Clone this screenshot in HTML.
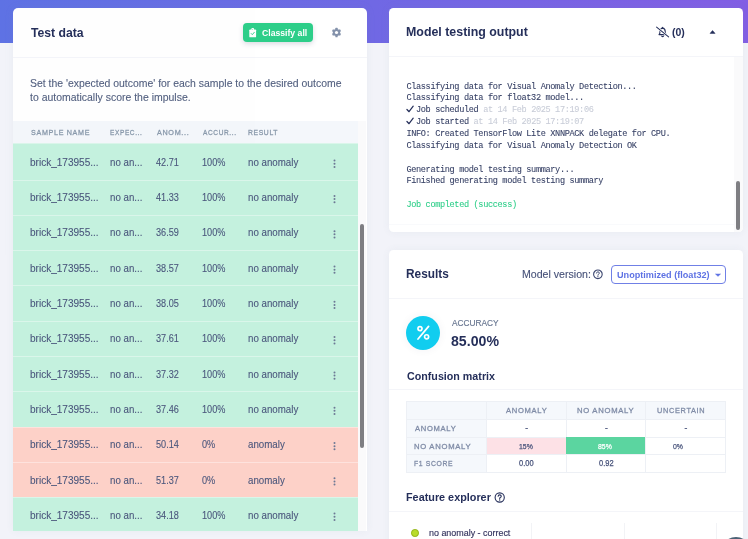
<!DOCTYPE html>
<html><head><meta charset="utf-8">
<style>
*{box-sizing:border-box;margin:0;padding:0}
html,body{width:748px;height:539px;overflow:hidden}
body{background:#f2f3f9;font-family:"Liberation Sans",sans-serif;color:#32325d;position:relative}
.top{position:absolute;left:0;top:0;width:748px;height:42.7px;background:linear-gradient(90deg,#5e72e4 0%,#825ee4 100%)}
.card{position:absolute;background:#fff;border-radius:4.5px;box-shadow:0 0 10px rgba(136,152,170,.09)}
.bx{position:absolute}
.t{position:absolute;white-space:nowrap;line-height:1;transform-origin:0 0;font-family:"Liberation Sans",sans-serif}
.mono{position:absolute;font-family:"Liberation Mono",monospace;font-size:8.6px;letter-spacing:-0.36px;color:#353f64;line-height:11.86px;-webkit-text-stroke:0.08px currentColor;white-space:pre}
.dim{color:#c9cdd8}
.ck{display:inline-block;width:8px;height:8px;margin-right:1.6px;vertical-align:-1px}
.row{position:absolute;left:13px;width:344.8px;height:35.5px;border-top:1px solid rgba(255,255,255,.38)}
.g{background:#c4f1de}
.r{background:#fdd1c8}
.dots{position:absolute;left:320.5px;top:15px;width:2px;height:9px}
.dots b{display:block;width:2px;height:2px;border-radius:50%;background:#66738f;margin-bottom:1.5px}
.gl{background:#edf0f5}
.ln{position:absolute;background:#f4f5f9;height:1px}
#all{position:absolute;left:0;top:0;width:748px;height:539px;overflow:hidden;will-change:transform;opacity:0.999}
</style></head><body><div id="all">
<div class="top"></div>

<!-- LEFT CARD -->
<div class="card" style="left:13px;top:8px;width:354.2px;height:522.6px;border-radius:5px 5px 0 0"></div>
<div class="bx" style="left:243.1px;top:23.1px;width:69.7px;height:19.3px;border-radius:4px;background:#2dce89;box-shadow:0 2px 5px rgba(50,50,93,.18)"></div>
<div class="ln" style="left:13px;top:57px;width:354.2px"></div>
<div class="bx" style="left:13px;top:121.3px;width:344.8px;height:23px;background:#f4f7fb"></div>
<div class="bx" style="left:13px;top:0;width:354.2px;height:530.6px;overflow:hidden">
<div style="position:absolute;left:-13px;top:0;width:400px;height:600px">
<div class="row g" style="top:143.1px;height:36.6px"></div>
<div class="row g" style="top:179.5px;height:35.5px"></div>
<div class="row g" style="top:214.8px;height:35.5px"></div>
<div class="row g" style="top:250.1px;height:35.5px"></div>
<div class="row g" style="top:285.4px;height:35.5px"></div>
<div class="row g" style="top:320.7px;height:35.5px"></div>
<div class="row g" style="top:356.0px;height:35.5px"></div>
<div class="row g" style="top:391.3px;height:35.5px"></div>
<div class="row r" style="top:426.6px;height:35.5px"></div>
<div class="row r" style="top:461.9px;height:35.5px"></div>
<div class="row g" style="top:497.2px;height:35.5px"></div>

</div>
<div class="bx" style="left:344.8px;top:121.3px;width:8.5px;height:412px;background:#fafafb"></div>
<div class="bx" style="left:347px;top:224.4px;width:4.2px;height:223.6px;border-radius:2.1px;background:#7e7e82"></div>
</div>

<!-- RIGHT TOP CARD -->
<div class="card" style="left:388.8px;top:8px;width:354.5px;height:224.2px;overflow:hidden">
  <div class="bx" style="left:344.8px;top:48.4px;width:9.7px;height:176px;background:#fafafb"></div>
  <div class="bx" style="left:347.2px;top:173.4px;width:4.4px;height:48.7px;border-radius:2.2px;background:#7e7e82"></div>
</div>
<div class="ln" style="left:388.8px;top:55.8px;width:354.5px"></div>
<div class="ln" style="left:388.8px;top:223.8px;width:345px;background:#f9fafc"></div>
<div class="mono" id="log" style="left:406.4px;top:81.5px">Classifying data for Visual Anomaly Detection...
Classifying data for float32 model...
<svg class="ck" viewBox="0 0 10 10"><path d="M1.2 5.6 L3.8 8.4 L9 1.4" fill="none" stroke="#252f5a" stroke-width="1.5" stroke-linecap="round" stroke-linejoin="round"/></svg>Job scheduled <span class="dim">at 14 Feb 2025 17:19:06</span>
<svg class="ck" viewBox="0 0 10 10"><path d="M1.2 5.6 L3.8 8.4 L9 1.4" fill="none" stroke="#252f5a" stroke-width="1.5" stroke-linecap="round" stroke-linejoin="round"/></svg>Job started <span class="dim">at 14 Feb 2025 17:19:07</span>
INFO: Created TensorFlow Lite XNNPACK delegate for CPU.
Classifying data for Visual Anomaly Detection OK

Generating model testing summary...
Finished generating model testing summary

<span style="color:#2dce89">Job completed (success)</span></div>

<!-- RIGHT BOTTOM CARD -->
<div class="card" style="left:388.8px;top:249.8px;width:354.5px;height:300px"></div>
<div class="bx" style="left:610.6px;top:265px;width:115.3px;height:19px;border:1px solid #7080e6;border-radius:4px;background:#fff"></div>
<div class="ln" style="left:388.8px;top:297.5px;width:354.5px"></div>
<div class="bx" style="left:406.2px;top:315.9px;width:34.1px;height:34.1px;border-radius:50%;background:#11cdef;box-shadow:0 0 10px rgba(50,50,93,.06)"></div>
<div class="ln" style="left:388.8px;top:389.2px;width:354.5px"></div>
<div class="ln" style="left:388.8px;top:510.6px;width:354.5px"></div>


<!-- confusion matrix -->
<div class="bx" style="left:406.3px;top:400.8px;width:319.4px;height:71.8px;background:#fff;border:1px solid #edf0f5"></div>
<div class="bx" style="left:406.3px;top:400.8px;width:319.4px;height:18.6px;background:#f5f8fc"></div>
<div class="bx" style="left:406.3px;top:400.8px;width:80.2px;height:71.8px;background:#f5f8fc"></div>
<div class="bx" style="left:486.4px;top:437px;width:80px;height:17.6px;background:#fde1e6"></div>
<div class="bx" style="left:566.3px;top:437px;width:79.3px;height:17.2px;background:#5bd5a0"></div>
<div class="bx gl" style="left:406.3px;top:419.2px;width:319.4px;height:1px"></div>
<div class="bx gl" style="left:406.3px;top:436.6px;width:160px;height:1px"></div>
<div class="bx gl" style="left:645.6px;top:436.6px;width:80px;height:1px"></div>
<div class="bx gl" style="left:406.3px;top:454.4px;width:319.4px;height:1px"></div>
<div class="bx gl" style="left:486.2px;top:400.8px;width:1px;height:71.8px"></div>
<div class="bx gl" style="left:566.1px;top:400.8px;width:1px;height:36px"></div>
<div class="bx gl" style="left:566.1px;top:454.4px;width:1px;height:18px"></div>
<div class="bx gl" style="left:645.4px;top:400.8px;width:1px;height:71.8px"></div>
<div class="bx gl" style="left:406.3px;top:400.8px;width:319.4px;height:71.8px;background:none;border:1px solid #edf0f5"></div>

<!-- feature explorer plot hints -->
<div class="bx" style="left:531.2px;top:522.5px;width:1px;height:20px;background:#f2f3f6"></div>
<div class="bx" style="left:623.6px;top:522.5px;width:1px;height:20px;background:#f2f3f6"></div>
<div class="bx" style="left:716.2px;top:522.5px;width:1px;height:20px;background:#f2f3f6"></div>
<div class="bx" style="left:410.9px;top:529.3px;width:7.7px;height:7.7px;border-radius:50%;background:#b9dc2b;border:0.8px solid #93b418"></div>
<div class="bx" style="left:721px;top:536.9px;width:30px;height:30px;border-radius:50%;background:#4b6276"></div>

<!-- ICONS -->
<svg class="bx" style="left:0;top:0" width="748" height="539" viewBox="0 0 748 539">
  <!-- clipboard check -->
  <g transform="translate(249.3,28.1)">
    <path d="M0.9 1.3 H5.9 Q6.8 1.3 6.8 2.2 V8.3 Q6.8 9.2 5.9 9.2 H0.9 Q0 9.2 0 8.3 V2.2 Q0 1.3 0.9 1.3 Z" fill="#fff"/>
    <rect x="2.1" y="0" width="2.6" height="2.2" rx="0.8" fill="#fff"/>
    <path d="M1.9 5.4 L3 6.6 L5 4.2" fill="none" stroke="#2dce89" stroke-width="0.9" stroke-linecap="round" stroke-linejoin="round"/>
    <circle cx="3.4" cy="1.2" r="0.45" fill="#2dce89"/>
  </g>
  <!-- gear -->
  <g transform="translate(336.5,32.5)" fill="#8492ab">
    <g id="teeth">
      <rect x="-1.15" y="-4.65" width="2.3" height="9.3" rx="0.5"/>
      <rect x="-1.15" y="-4.65" width="2.3" height="9.3" rx="0.5" transform="rotate(60)"/>
      <rect x="-1.15" y="-4.65" width="2.3" height="9.3" rx="0.5" transform="rotate(120)"/>
    </g>
    <circle r="3.6"/>
    <circle r="1.6" fill="#fff"/>
  </g>
  <!-- bell slash -->
  <g transform="translate(662.6,32)" fill="none" stroke="#252f5a" stroke-linecap="round" stroke-linejoin="round">
    <path d="M-3.6 2.6 Q-2.6 1.6 -2.6 -0.6 Q-2.6 -3.6 0 -3.9 Q2.6 -3.6 2.6 -0.6 Q2.6 1.6 3.6 2.6 Z" stroke-width="1.1"/>
    <path d="M-0.9 4.2 Q0 5 0.9 4.2" stroke-width="1.1"/>
    <path d="M0 -4.6 V-4" stroke-width="1.1"/>
    <path d="M-6 -5.2 L6.2 5.2" stroke="#fff" stroke-width="2.4"/>
    <path d="M-6 -4.9 L6 4.9" stroke-width="1.05"/>
  </g>
  <!-- caret up -->
  <path d="M710 33.4 L712.55 30.5 L715.1 33.4 Z" fill="#252f5a" stroke="#252f5a" stroke-width="0.5" stroke-linejoin="round"/>
  <!-- select caret -->
  <path d="M715.4 273.9 L720.6 273.9 L718 276.4 Z" fill="#5e72e4" stroke="#5e72e4" stroke-width="0.4" stroke-linejoin="round"/>
  <!-- question circles -->
  <g transform="translate(597.9,274.3)">
    <circle r="4.3" fill="none" stroke="#3d4871" stroke-width="1.1"/>
    <path d="M-1.45 -1.2 Q-1.35 -2.45 0 -2.45 Q1.45 -2.45 1.45 -1.2 Q1.45 -0.4 0.55 0 Q0 0.3 0 1" fill="none" stroke="#3d4871" stroke-width="0.95" stroke-linecap="round"/>
    <circle cx="0" cy="2.35" r="0.6" fill="#3d4871"/>
  </g>
  <g transform="translate(499.7,497.5)">
    <circle r="4.6" fill="none" stroke="#252f5a" stroke-width="1.1"/>
    <path d="M-1.55 -1.3 Q-1.45 -2.65 0 -2.65 Q1.55 -2.65 1.55 -1.3 Q1.55 -0.4 0.6 0 Q0 0.3 0 1.1" fill="none" stroke="#252f5a" stroke-width="1.1" stroke-linecap="round"/>
    <circle cx="0" cy="2.5" r="0.7" fill="#252f5a"/>
  </g>
  <circle cx="334.5" cy="160.60" r="1.0" fill="#6c7894"/><circle cx="334.5" cy="163.75" r="1.0" fill="#6c7894"/><circle cx="334.5" cy="166.90" r="1.0" fill="#6c7894"/><circle cx="334.5" cy="195.90" r="1.0" fill="#6c7894"/><circle cx="334.5" cy="199.05" r="1.0" fill="#6c7894"/><circle cx="334.5" cy="202.20" r="1.0" fill="#6c7894"/><circle cx="334.5" cy="231.20" r="1.0" fill="#6c7894"/><circle cx="334.5" cy="234.35" r="1.0" fill="#6c7894"/><circle cx="334.5" cy="237.50" r="1.0" fill="#6c7894"/><circle cx="334.5" cy="266.50" r="1.0" fill="#6c7894"/><circle cx="334.5" cy="269.65" r="1.0" fill="#6c7894"/><circle cx="334.5" cy="272.80" r="1.0" fill="#6c7894"/><circle cx="334.5" cy="301.80" r="1.0" fill="#6c7894"/><circle cx="334.5" cy="304.95" r="1.0" fill="#6c7894"/><circle cx="334.5" cy="308.10" r="1.0" fill="#6c7894"/><circle cx="334.5" cy="337.10" r="1.0" fill="#6c7894"/><circle cx="334.5" cy="340.25" r="1.0" fill="#6c7894"/><circle cx="334.5" cy="343.40" r="1.0" fill="#6c7894"/><circle cx="334.5" cy="372.40" r="1.0" fill="#6c7894"/><circle cx="334.5" cy="375.55" r="1.0" fill="#6c7894"/><circle cx="334.5" cy="378.70" r="1.0" fill="#6c7894"/><circle cx="334.5" cy="407.70" r="1.0" fill="#6c7894"/><circle cx="334.5" cy="410.85" r="1.0" fill="#6c7894"/><circle cx="334.5" cy="414.00" r="1.0" fill="#6c7894"/><circle cx="334.5" cy="443.00" r="1.0" fill="#6c7894"/><circle cx="334.5" cy="446.15" r="1.0" fill="#6c7894"/><circle cx="334.5" cy="449.30" r="1.0" fill="#6c7894"/><circle cx="334.5" cy="478.30" r="1.0" fill="#6c7894"/><circle cx="334.5" cy="481.45" r="1.0" fill="#6c7894"/><circle cx="334.5" cy="484.60" r="1.0" fill="#6c7894"/><circle cx="334.5" cy="513.60" r="1.0" fill="#6c7894"/><circle cx="334.5" cy="516.75" r="1.0" fill="#6c7894"/><circle cx="334.5" cy="519.90" r="1.0" fill="#6c7894"/>
  <!-- percent -->
  <g transform="translate(423.3,332.7)" fill="none" stroke="#fff" stroke-linecap="round">
    <circle cx="-3.3" cy="-4.1" r="2.05" stroke-width="1.7"/>
    <circle cx="3.3" cy="4.1" r="2.05" stroke-width="1.7"/>
    <path d="M5.3 -6.3 L-5.3 6.3" stroke-width="1.75"/>
  </g>
</svg>

<div class="t" id="t1" style="left:30.57px;top:26.10px;font-size:13.1px;font-weight:bold;color:#252f5a;letter-spacing:0.000px;transform:scaleX(0.9316);">Test data</div>
<div class="t" id="cls" style="left:261.76px;top:29.41px;font-size:9.3px;font-weight:bold;color:#fff;letter-spacing:0.000px;transform:scaleX(0.9305);">Classify all</div>
<div class="t" id="d1" style="left:29.86px;top:77.50px;font-size:10.8px;font-weight:normal;color:#525f7f;letter-spacing:0.000px;transform:scaleX(0.9668);-webkit-text-stroke:0.12px currentColor;">Set the 'expected outcome' for each sample to the desired outcome</div>
<div class="t" id="d2" style="left:29.90px;top:91.90px;font-size:10.8px;font-weight:normal;color:#525f7f;letter-spacing:0.000px;transform:scaleX(0.9699);-webkit-text-stroke:0.12px currentColor;">to automatically score the impulse.</div>
<div class="t" id="th1" style="left:30.76px;top:129.01px;font-size:8px;font-weight:normal;color:#8898aa;letter-spacing:0.750px;transform:scaleX(0.8956);-webkit-text-stroke:0.3px currentColor;">SAMPLE NAME</div>
<div class="t" id="th2" style="left:110.43px;top:129.01px;font-size:8px;font-weight:normal;color:#8898aa;letter-spacing:0.750px;transform:scaleX(0.8150);-webkit-text-stroke:0.3px currentColor;">EXPEC...</div>
<div class="t" id="th3" style="left:156.88px;top:129.01px;font-size:8px;font-weight:normal;color:#8898aa;letter-spacing:0.750px;transform:scaleX(0.9017);-webkit-text-stroke:0.3px currentColor;">ANOM...</div>
<div class="t" id="th4" style="left:202.88px;top:129.01px;font-size:8px;font-weight:normal;color:#8898aa;letter-spacing:0.750px;transform:scaleX(0.8185);-webkit-text-stroke:0.3px currentColor;">ACCUR...</div>
<div class="t" id="th5" style="left:248.43px;top:129.01px;font-size:8px;font-weight:normal;color:#8898aa;letter-spacing:0.750px;transform:scaleX(0.8480);-webkit-text-stroke:0.3px currentColor;">RESULT</div>
<div class="t" id="r0a" style="left:29.56px;top:157.80px;font-size:10.1px;font-weight:normal;color:#4a567c;letter-spacing:0.000px;transform:scaleX(0.9943);-webkit-text-stroke:0.1px currentColor;">brick_173955...</div>
<div class="t" id="r0b" style="left:110.43px;top:157.80px;font-size:10.1px;font-weight:normal;color:#4a567c;letter-spacing:0.000px;transform:scaleX(0.9610);-webkit-text-stroke:0.1px currentColor;">no an...</div>
<div class="t" id="r0c" style="left:156.43px;top:157.80px;font-size:10.1px;font-weight:normal;color:#4a567c;letter-spacing:0.000px;transform:scaleX(0.9043);-webkit-text-stroke:0.1px currentColor;">42.71</div>
<div class="t" id="r0d" style="left:202.43px;top:157.80px;font-size:10.1px;font-weight:normal;color:#4a567c;letter-spacing:0.000px;transform:scaleX(0.9072);-webkit-text-stroke:0.1px currentColor;">100%</div>
<div class="t" id="r0e" style="left:248.43px;top:157.80px;font-size:10.1px;font-weight:normal;color:#4a567c;letter-spacing:0.000px;transform:scaleX(0.9640);-webkit-text-stroke:0.1px currentColor;">no anomaly</div>
<div class="t" id="r1a" style="left:29.56px;top:193.10px;font-size:10.1px;font-weight:normal;color:#4a567c;letter-spacing:0.000px;transform:scaleX(0.9943);-webkit-text-stroke:0.1px currentColor;">brick_173955...</div>
<div class="t" id="r1b" style="left:110.43px;top:193.10px;font-size:10.1px;font-weight:normal;color:#4a567c;letter-spacing:0.000px;transform:scaleX(0.9610);-webkit-text-stroke:0.1px currentColor;">no an...</div>
<div class="t" id="r1c" style="left:156.43px;top:193.10px;font-size:10.1px;font-weight:normal;color:#4a567c;letter-spacing:0.000px;transform:scaleX(0.9043);-webkit-text-stroke:0.1px currentColor;">41.33</div>
<div class="t" id="r1d" style="left:202.43px;top:193.10px;font-size:10.1px;font-weight:normal;color:#4a567c;letter-spacing:0.000px;transform:scaleX(0.9072);-webkit-text-stroke:0.1px currentColor;">100%</div>
<div class="t" id="r1e" style="left:248.43px;top:193.10px;font-size:10.1px;font-weight:normal;color:#4a567c;letter-spacing:0.000px;transform:scaleX(0.9640);-webkit-text-stroke:0.1px currentColor;">no anomaly</div>
<div class="t" id="r2a" style="left:29.56px;top:228.40px;font-size:10.1px;font-weight:normal;color:#4a567c;letter-spacing:0.000px;transform:scaleX(0.9943);-webkit-text-stroke:0.1px currentColor;">brick_173955...</div>
<div class="t" id="r2b" style="left:110.43px;top:228.40px;font-size:10.1px;font-weight:normal;color:#4a567c;letter-spacing:0.000px;transform:scaleX(0.9610);-webkit-text-stroke:0.1px currentColor;">no an...</div>
<div class="t" id="r2c" style="left:156.43px;top:228.40px;font-size:10.1px;font-weight:normal;color:#4a567c;letter-spacing:0.000px;transform:scaleX(0.9043);-webkit-text-stroke:0.1px currentColor;">36.59</div>
<div class="t" id="r2d" style="left:202.43px;top:228.40px;font-size:10.1px;font-weight:normal;color:#4a567c;letter-spacing:0.000px;transform:scaleX(0.9072);-webkit-text-stroke:0.1px currentColor;">100%</div>
<div class="t" id="r2e" style="left:248.43px;top:228.40px;font-size:10.1px;font-weight:normal;color:#4a567c;letter-spacing:0.000px;transform:scaleX(0.9640);-webkit-text-stroke:0.1px currentColor;">no anomaly</div>
<div class="t" id="r3a" style="left:29.56px;top:263.70px;font-size:10.1px;font-weight:normal;color:#4a567c;letter-spacing:0.000px;transform:scaleX(0.9943);-webkit-text-stroke:0.1px currentColor;">brick_173955...</div>
<div class="t" id="r3b" style="left:110.43px;top:263.70px;font-size:10.1px;font-weight:normal;color:#4a567c;letter-spacing:0.000px;transform:scaleX(0.9610);-webkit-text-stroke:0.1px currentColor;">no an...</div>
<div class="t" id="r3c" style="left:156.43px;top:263.70px;font-size:10.1px;font-weight:normal;color:#4a567c;letter-spacing:0.000px;transform:scaleX(0.9043);-webkit-text-stroke:0.1px currentColor;">38.57</div>
<div class="t" id="r3d" style="left:202.43px;top:263.70px;font-size:10.1px;font-weight:normal;color:#4a567c;letter-spacing:0.000px;transform:scaleX(0.9072);-webkit-text-stroke:0.1px currentColor;">100%</div>
<div class="t" id="r3e" style="left:248.43px;top:263.70px;font-size:10.1px;font-weight:normal;color:#4a567c;letter-spacing:0.000px;transform:scaleX(0.9640);-webkit-text-stroke:0.1px currentColor;">no anomaly</div>
<div class="t" id="r4a" style="left:29.56px;top:299.00px;font-size:10.1px;font-weight:normal;color:#4a567c;letter-spacing:0.000px;transform:scaleX(0.9943);-webkit-text-stroke:0.1px currentColor;">brick_173955...</div>
<div class="t" id="r4b" style="left:110.43px;top:299.00px;font-size:10.1px;font-weight:normal;color:#4a567c;letter-spacing:0.000px;transform:scaleX(0.9610);-webkit-text-stroke:0.1px currentColor;">no an...</div>
<div class="t" id="r4c" style="left:156.43px;top:299.00px;font-size:10.1px;font-weight:normal;color:#4a567c;letter-spacing:0.000px;transform:scaleX(0.9043);-webkit-text-stroke:0.1px currentColor;">38.05</div>
<div class="t" id="r4d" style="left:202.43px;top:299.00px;font-size:10.1px;font-weight:normal;color:#4a567c;letter-spacing:0.000px;transform:scaleX(0.9072);-webkit-text-stroke:0.1px currentColor;">100%</div>
<div class="t" id="r4e" style="left:248.43px;top:299.00px;font-size:10.1px;font-weight:normal;color:#4a567c;letter-spacing:0.000px;transform:scaleX(0.9640);-webkit-text-stroke:0.1px currentColor;">no anomaly</div>
<div class="t" id="r5a" style="left:29.56px;top:334.30px;font-size:10.1px;font-weight:normal;color:#4a567c;letter-spacing:0.000px;transform:scaleX(0.9943);-webkit-text-stroke:0.1px currentColor;">brick_173955...</div>
<div class="t" id="r5b" style="left:110.43px;top:334.30px;font-size:10.1px;font-weight:normal;color:#4a567c;letter-spacing:0.000px;transform:scaleX(0.9610);-webkit-text-stroke:0.1px currentColor;">no an...</div>
<div class="t" id="r5c" style="left:156.43px;top:334.30px;font-size:10.1px;font-weight:normal;color:#4a567c;letter-spacing:0.000px;transform:scaleX(0.9043);-webkit-text-stroke:0.1px currentColor;">37.61</div>
<div class="t" id="r5d" style="left:202.43px;top:334.30px;font-size:10.1px;font-weight:normal;color:#4a567c;letter-spacing:0.000px;transform:scaleX(0.9072);-webkit-text-stroke:0.1px currentColor;">100%</div>
<div class="t" id="r5e" style="left:248.43px;top:334.30px;font-size:10.1px;font-weight:normal;color:#4a567c;letter-spacing:0.000px;transform:scaleX(0.9640);-webkit-text-stroke:0.1px currentColor;">no anomaly</div>
<div class="t" id="r6a" style="left:29.56px;top:369.60px;font-size:10.1px;font-weight:normal;color:#4a567c;letter-spacing:0.000px;transform:scaleX(0.9943);-webkit-text-stroke:0.1px currentColor;">brick_173955...</div>
<div class="t" id="r6b" style="left:110.43px;top:369.60px;font-size:10.1px;font-weight:normal;color:#4a567c;letter-spacing:0.000px;transform:scaleX(0.9610);-webkit-text-stroke:0.1px currentColor;">no an...</div>
<div class="t" id="r6c" style="left:156.43px;top:369.60px;font-size:10.1px;font-weight:normal;color:#4a567c;letter-spacing:0.000px;transform:scaleX(0.9043);-webkit-text-stroke:0.1px currentColor;">37.32</div>
<div class="t" id="r6d" style="left:202.43px;top:369.60px;font-size:10.1px;font-weight:normal;color:#4a567c;letter-spacing:0.000px;transform:scaleX(0.9072);-webkit-text-stroke:0.1px currentColor;">100%</div>
<div class="t" id="r6e" style="left:248.43px;top:369.60px;font-size:10.1px;font-weight:normal;color:#4a567c;letter-spacing:0.000px;transform:scaleX(0.9640);-webkit-text-stroke:0.1px currentColor;">no anomaly</div>
<div class="t" id="r7a" style="left:29.56px;top:404.90px;font-size:10.1px;font-weight:normal;color:#4a567c;letter-spacing:0.000px;transform:scaleX(0.9943);-webkit-text-stroke:0.1px currentColor;">brick_173955...</div>
<div class="t" id="r7b" style="left:110.43px;top:404.90px;font-size:10.1px;font-weight:normal;color:#4a567c;letter-spacing:0.000px;transform:scaleX(0.9610);-webkit-text-stroke:0.1px currentColor;">no an...</div>
<div class="t" id="r7c" style="left:156.43px;top:404.90px;font-size:10.1px;font-weight:normal;color:#4a567c;letter-spacing:0.000px;transform:scaleX(0.9043);-webkit-text-stroke:0.1px currentColor;">37.46</div>
<div class="t" id="r7d" style="left:202.43px;top:404.90px;font-size:10.1px;font-weight:normal;color:#4a567c;letter-spacing:0.000px;transform:scaleX(0.9072);-webkit-text-stroke:0.1px currentColor;">100%</div>
<div class="t" id="r7e" style="left:248.43px;top:404.90px;font-size:10.1px;font-weight:normal;color:#4a567c;letter-spacing:0.000px;transform:scaleX(0.9640);-webkit-text-stroke:0.1px currentColor;">no anomaly</div>
<div class="t" id="r8a" style="left:29.56px;top:440.20px;font-size:10.1px;font-weight:normal;color:#4a567c;letter-spacing:0.000px;transform:scaleX(0.9943);-webkit-text-stroke:0.1px currentColor;">brick_173955...</div>
<div class="t" id="r8b" style="left:110.43px;top:440.20px;font-size:10.1px;font-weight:normal;color:#4a567c;letter-spacing:0.000px;transform:scaleX(0.9610);-webkit-text-stroke:0.1px currentColor;">no an...</div>
<div class="t" id="r8c" style="left:156.43px;top:440.20px;font-size:10.1px;font-weight:normal;color:#4a567c;letter-spacing:0.000px;transform:scaleX(0.9043);-webkit-text-stroke:0.1px currentColor;">50.14</div>
<div class="t" id="r8d" style="left:202.43px;top:440.20px;font-size:10.1px;font-weight:normal;color:#4a567c;letter-spacing:0.000px;transform:scaleX(0.9072);-webkit-text-stroke:0.1px currentColor;">0%</div>
<div class="t" id="r8e" style="left:248.43px;top:440.20px;font-size:10.1px;font-weight:normal;color:#4a567c;letter-spacing:0.000px;transform:scaleX(0.9640);-webkit-text-stroke:0.1px currentColor;">anomaly</div>
<div class="t" id="r9a" style="left:29.56px;top:475.50px;font-size:10.1px;font-weight:normal;color:#4a567c;letter-spacing:0.000px;transform:scaleX(0.9943);-webkit-text-stroke:0.1px currentColor;">brick_173955...</div>
<div class="t" id="r9b" style="left:110.43px;top:475.50px;font-size:10.1px;font-weight:normal;color:#4a567c;letter-spacing:0.000px;transform:scaleX(0.9610);-webkit-text-stroke:0.1px currentColor;">no an...</div>
<div class="t" id="r9c" style="left:156.43px;top:475.50px;font-size:10.1px;font-weight:normal;color:#4a567c;letter-spacing:0.000px;transform:scaleX(0.9043);-webkit-text-stroke:0.1px currentColor;">51.37</div>
<div class="t" id="r9d" style="left:202.43px;top:475.50px;font-size:10.1px;font-weight:normal;color:#4a567c;letter-spacing:0.000px;transform:scaleX(0.9072);-webkit-text-stroke:0.1px currentColor;">0%</div>
<div class="t" id="r9e" style="left:248.43px;top:475.50px;font-size:10.1px;font-weight:normal;color:#4a567c;letter-spacing:0.000px;transform:scaleX(0.9640);-webkit-text-stroke:0.1px currentColor;">anomaly</div>
<div class="t" id="r10a" style="left:29.56px;top:510.80px;font-size:10.1px;font-weight:normal;color:#4a567c;letter-spacing:0.000px;transform:scaleX(0.9943);-webkit-text-stroke:0.1px currentColor;">brick_173955...</div>
<div class="t" id="r10b" style="left:110.43px;top:510.80px;font-size:10.1px;font-weight:normal;color:#4a567c;letter-spacing:0.000px;transform:scaleX(0.9610);-webkit-text-stroke:0.1px currentColor;">no an...</div>
<div class="t" id="r10c" style="left:156.43px;top:510.80px;font-size:10.1px;font-weight:normal;color:#4a567c;letter-spacing:0.000px;transform:scaleX(0.9043);-webkit-text-stroke:0.1px currentColor;">34.18</div>
<div class="t" id="r10d" style="left:202.43px;top:510.80px;font-size:10.1px;font-weight:normal;color:#4a567c;letter-spacing:0.000px;transform:scaleX(0.9072);-webkit-text-stroke:0.1px currentColor;">100%</div>
<div class="t" id="r10e" style="left:248.43px;top:510.80px;font-size:10.1px;font-weight:normal;color:#4a567c;letter-spacing:0.000px;transform:scaleX(0.9640);-webkit-text-stroke:0.1px currentColor;">no anomaly</div>
<div class="t" id="t2" style="left:405.91px;top:24.60px;font-size:13.1px;font-weight:bold;color:#252f5a;letter-spacing:0.000px;transform:scaleX(0.9461);">Model testing output</div>
<div class="t" id="zero" style="left:671.92px;top:27.00px;font-size:10.8px;font-weight:bold;color:#252f5a;letter-spacing:0.000px;transform:scaleX(0.9697);">(0)</div>
<div class="t" id="t3" style="left:406.05px;top:267.41px;font-size:13.1px;font-weight:bold;color:#252f5a;letter-spacing:0.000px;transform:scaleX(0.9039);">Results</div>
<div class="t" id="mv" style="left:522.05px;top:269.00px;font-size:10.8px;font-weight:normal;color:#465178;letter-spacing:0.000px;transform:scaleX(0.9812);-webkit-text-stroke:0.12px currentColor;">Model version:</div>
<div class="t" id="unopt" style="left:617.17px;top:270.70px;font-size:9.3px;font-weight:bold;color:#5e72e4;letter-spacing:0.000px;transform:scaleX(0.9799);">Unoptimized (float32)</div>
<div class="t" id="acc" style="left:451.88px;top:318.21px;font-size:9.4px;font-weight:normal;color:#66748f;letter-spacing:0.000px;transform:scaleX(0.8864);-webkit-text-stroke:0.15px currentColor;">ACCURACY</div>
<div class="t" id="pct" style="left:451.43px;top:333.90px;font-size:14.6px;font-weight:bold;color:#252f5a;letter-spacing:0.000px;transform:scaleX(0.9690);">85.00%</div>
<div class="t" id="cm" style="left:406.69px;top:370.11px;font-size:11.6px;font-weight:bold;color:#252f5a;letter-spacing:0.000px;transform:scaleX(0.9228);">Confusion matrix</div>
<div class="t" id="ch1" style="left:505.88px;top:407.11px;font-size:8px;font-weight:normal;color:#7f8ba6;letter-spacing:0.750px;transform:scaleX(0.9453);-webkit-text-stroke:0.3px currentColor;">ANOMALY</div>
<div class="t" id="ch2" style="left:577.24px;top:407.11px;font-size:8px;font-weight:normal;color:#7f8ba6;letter-spacing:0.750px;transform:scaleX(0.9590);-webkit-text-stroke:0.3px currentColor;">NO ANOMALY</div>
<div class="t" id="ch3" style="left:656.57px;top:407.11px;font-size:8px;font-weight:normal;color:#7f8ba6;letter-spacing:0.750px;transform:scaleX(0.9168);-webkit-text-stroke:0.3px currentColor;">UNCERTAIN</div>
<div class="t" id="cl1" style="left:414.88px;top:424.71px;font-size:8px;font-weight:normal;color:#7f8ba6;letter-spacing:0.750px;transform:scaleX(0.9453);-webkit-text-stroke:0.3px currentColor;">ANOMALY</div>
<div class="t" id="cl2" style="left:414.34px;top:442.51px;font-size:8px;font-weight:normal;color:#7f8ba6;letter-spacing:0.750px;transform:scaleX(0.9590);-webkit-text-stroke:0.3px currentColor;">NO ANOMALY</div>
<div class="t" id="cl3" style="left:414.43px;top:460.01px;font-size:8px;font-weight:normal;color:#7f8ba6;letter-spacing:0.750px;transform:scaleX(0.8504);-webkit-text-stroke:0.3px currentColor;">F1 SCORE</div>
<div class="t" id="c11" style="left:525.34px;top:423.71px;font-size:8.4px;font-weight:normal;color:#47527a;letter-spacing:0.000px;transform:scaleX(1.0000);-webkit-text-stroke:0.25px currentColor;">-</div>
<div class="t" id="c12" style="left:604.92px;top:423.71px;font-size:8.4px;font-weight:normal;color:#47527a;letter-spacing:0.000px;transform:scaleX(1.0000);-webkit-text-stroke:0.25px currentColor;">-</div>
<div class="t" id="c13" style="left:684.42px;top:423.71px;font-size:8.4px;font-weight:normal;color:#47527a;letter-spacing:0.000px;transform:scaleX(1.0000);-webkit-text-stroke:0.25px currentColor;">-</div>
<div class="t" id="c21" style="left:519.31px;top:442.50px;font-size:8.1px;font-weight:normal;color:#47527a;letter-spacing:0.000px;transform:scaleX(0.8540);-webkit-text-stroke:0.25px currentColor;">15%</div>
<div class="t" id="c22" style="left:598.41px;top:442.50px;font-size:8.1px;font-weight:normal;color:#fff;letter-spacing:0.000px;transform:scaleX(0.8540);-webkit-text-stroke:0.25px currentColor;">85%</div>
<div class="t" id="c23" style="left:673.01px;top:442.50px;font-size:8.1px;font-weight:normal;color:#47527a;letter-spacing:0.000px;transform:scaleX(0.8540);-webkit-text-stroke:0.25px currentColor;">0%</div>
<div class="t" id="c31" style="left:519.26px;top:459.01px;font-size:8.4px;font-weight:normal;color:#47527a;letter-spacing:0.000px;transform:scaleX(0.8915);-webkit-text-stroke:0.25px currentColor;">0.00</div>
<div class="t" id="c32" style="left:598.86px;top:459.01px;font-size:8.4px;font-weight:normal;color:#47527a;letter-spacing:0.000px;transform:scaleX(0.8915);-webkit-text-stroke:0.25px currentColor;">0.92</div>
<div class="t" id="fe" style="left:406.05px;top:491.20px;font-size:11.6px;font-weight:bold;color:#252f5a;letter-spacing:0.000px;transform:scaleX(0.9339);">Feature explorer</div>
<div class="t" id="lg" style="left:428.73px;top:528.82px;font-size:9.2px;font-weight:normal;color:#32325d;letter-spacing:0.000px;transform:scaleX(0.9712);-webkit-text-stroke:0.15px currentColor;">no anomaly - correct</div>
</div></body></html>
